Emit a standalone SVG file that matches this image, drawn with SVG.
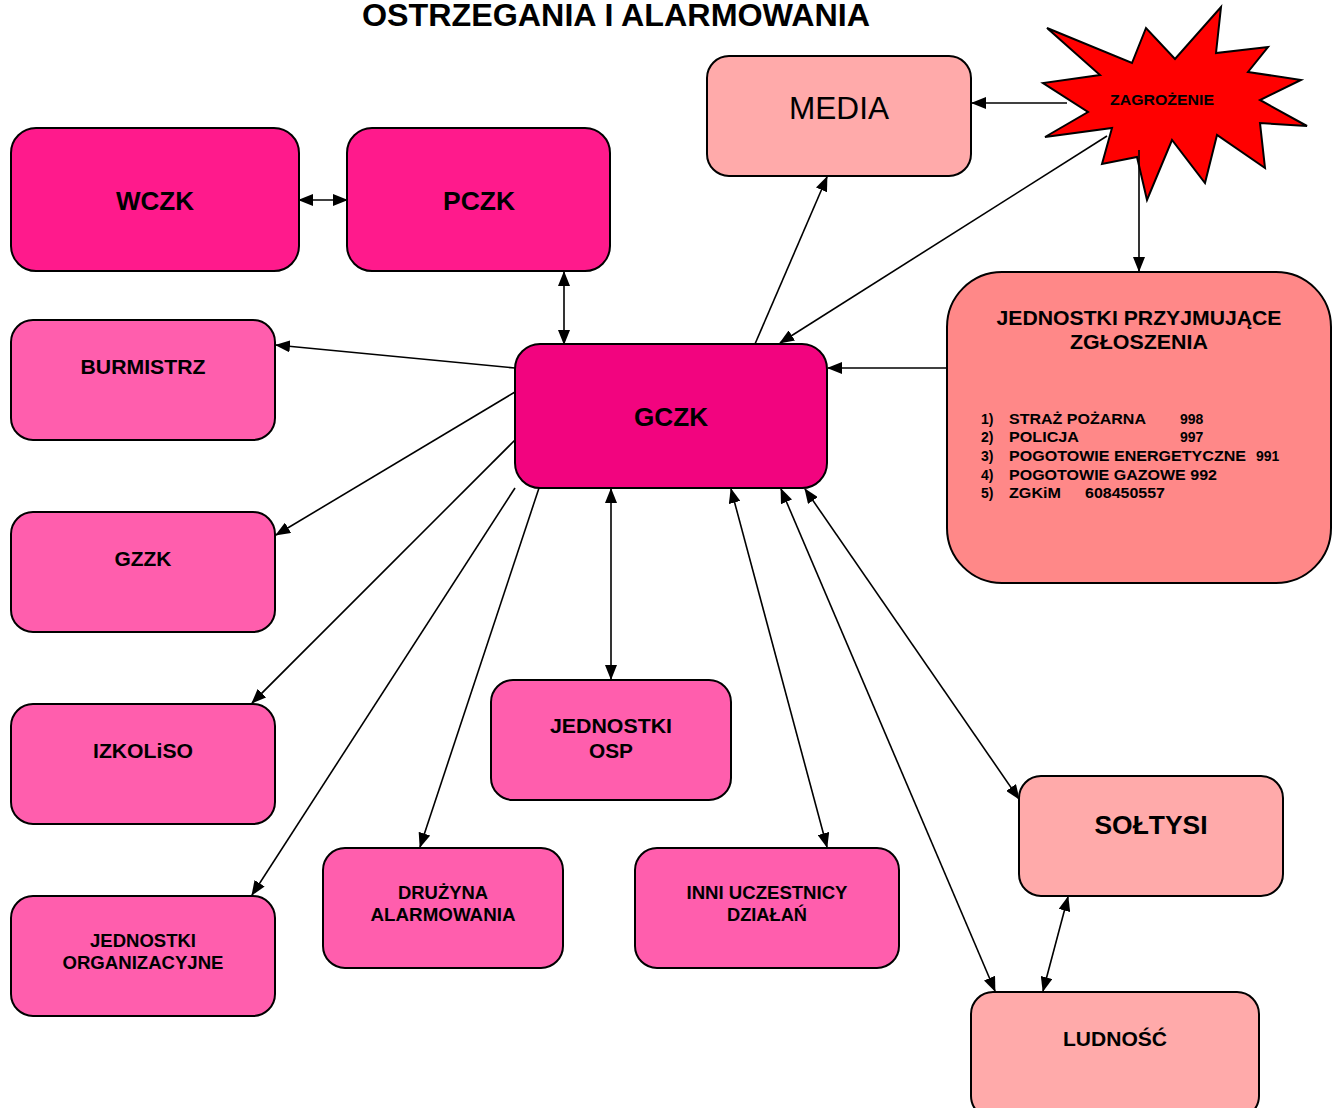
<svg xmlns="http://www.w3.org/2000/svg" width="1341" height="1108" viewBox="0 0 1341 1108">
<defs>
<marker id="ah" markerUnits="userSpaceOnUse" markerWidth="15" markerHeight="12" refX="14" refY="6" orient="auto-start-reverse">
<path d="M0,0 L15,6 L0,12 z" fill="#000"/>
</marker>
<style>
text{font-family:"Liberation Sans",Arial,sans-serif;font-weight:bold;fill:#000;text-anchor:middle}
.box{stroke:#000;stroke-width:2}
.dark{fill:#FF1A8C}
.gc{fill:#F2047F}
.mid{fill:#FF5EAD}
.light{fill:#FFAAAA}
.conn line{stroke:#000;stroke-width:1.6}
.t24{font-size:25px}
.t19{font-size:20px}
.t17{font-size:18px}
.list{font-size:14px;text-anchor:start}
</style>
</defs>
<rect width="1341" height="1108" fill="#fff"/>
<text x="616" y="26" style="font-size:32px" textLength="508" lengthAdjust="spacingAndGlyphs">OSTRZEGANIA I ALARMOWANIA</text>

<g id="zagrozenie">
<polygon points="1047,28 1132,63 1146,28 1175,59 1221,7 1216,53 1268,47 1248,72 1301,80 1260,100 1307,126 1260,123 1265,168 1217,135 1205,183 1172,140 1147,200 1137,157 1102,164 1112,128 1045,137 1088,112 1043,83 1100,75" fill="#FF0000" stroke="#000" stroke-width="2"/>
<text x="1162" y="105" style="font-size:15px" textLength="104" lengthAdjust="spacingAndGlyphs">ZAGROŻENIE</text>
</g>

<g class="conn">
<line x1="299" y1="200" x2="347" y2="200" marker-start="url(#ah)" marker-end="url(#ah)"/>
<line x1="564" y1="272" x2="564" y2="344" marker-start="url(#ah)" marker-end="url(#ah)"/>
<line x1="515" y1="368" x2="276" y2="345" marker-end="url(#ah)"/>
<line x1="515" y1="392" x2="276" y2="535" marker-end="url(#ah)"/>
<line x1="515" y1="440" x2="252" y2="703" marker-end="url(#ah)"/>
<line x1="515" y1="488" x2="252" y2="895" marker-end="url(#ah)"/>
<line x1="539" y1="488" x2="420" y2="847" marker-end="url(#ah)"/>
<line x1="611" y1="489" x2="611" y2="679" marker-start="url(#ah)" marker-end="url(#ah)"/>
<line x1="731" y1="489" x2="827" y2="847" marker-start="url(#ah)" marker-end="url(#ah)"/>
<line x1="781" y1="489" x2="995" y2="991" marker-start="url(#ah)" marker-end="url(#ah)"/>
<line x1="805" y1="489" x2="1019" y2="799" marker-start="url(#ah)" marker-end="url(#ah)"/>
<line x1="1068" y1="897" x2="1043" y2="991" marker-start="url(#ah)" marker-end="url(#ah)"/>
<line x1="755" y1="344" x2="827" y2="177" marker-end="url(#ah)"/>
<line x1="1067" y1="103" x2="972" y2="103" marker-end="url(#ah)"/>
<line x1="1107" y1="136" x2="780" y2="343" marker-end="url(#ah)"/>
<line x1="1139" y1="150" x2="1139" y2="271" marker-end="url(#ah)"/>
<line x1="947" y1="368" x2="828" y2="368" marker-end="url(#ah)"/>
</g>

<g id="wczk"><rect class="box dark" x="11" y="128" width="288" height="143" rx="25"/><text class="t24" x="155" y="210" textLength="78" lengthAdjust="spacingAndGlyphs">WCZK</text></g>
<g id="pczk"><rect class="box dark" x="347" y="128" width="263" height="143" rx="25"/><text class="t24" x="479" y="210" textLength="72" lengthAdjust="spacingAndGlyphs">PCZK</text></g>
<g id="media"><rect class="box light" x="707" y="56" width="264" height="120" rx="22"/><text x="839" y="119" style="font-size:31px;font-weight:normal" textLength="100" lengthAdjust="spacingAndGlyphs">MEDIA</text></g>
<g id="gczk"><rect class="box gc" x="515" y="344" width="312" height="144" rx="25"/><text class="t24" x="671" y="426" textLength="74" lengthAdjust="spacingAndGlyphs">GCZK</text></g>
<g id="jednostki-przyjmujace">
<rect class="box" x="947" y="272" width="384" height="311" rx="55" fill="#FF8888"/>
<text class="t19" x="1139" y="325" textLength="285" lengthAdjust="spacingAndGlyphs">JEDNOSTKI PRZYJMUJĄCE</text>
<text class="t19" x="1139" y="349" textLength="138" lengthAdjust="spacingAndGlyphs">ZGŁOSZENIA</text>
<text class="list" x="981" y="424">1)</text><text class="list" x="1009" y="424" textLength="137" lengthAdjust="spacingAndGlyphs">STRAŻ POŻARNA</text><text class="list" x="1180" y="424">998</text>
<text class="list" x="981" y="442">2)</text><text class="list" x="1009" y="442" textLength="70" lengthAdjust="spacingAndGlyphs">POLICJA</text><text class="list" x="1180" y="442">997</text>
<text class="list" x="981" y="461">3)</text><text class="list" x="1009" y="461" textLength="237" lengthAdjust="spacingAndGlyphs">POGOTOWIE ENERGETYCZNE</text><text class="list" x="1256" y="461">991</text>
<text class="list" x="981" y="480">4)</text><text class="list" x="1009" y="480" textLength="208" lengthAdjust="spacingAndGlyphs">POGOTOWIE GAZOWE 992</text>
<text class="list" x="981" y="498">5)</text><text class="list" x="1009" y="498" textLength="52" lengthAdjust="spacingAndGlyphs">ZGKiM</text><text class="list" x="1085" y="498" textLength="80" lengthAdjust="spacingAndGlyphs">608450557</text>
</g>
<g id="burmistrz"><rect class="box mid" x="11" y="320" width="264" height="120" rx="22"/><text class="t19" x="143" y="374" textLength="125" lengthAdjust="spacingAndGlyphs">BURMISTRZ</text></g>
<g id="gzzk"><rect class="box mid" x="11" y="512" width="264" height="120" rx="22"/><text class="t19" x="143" y="566" textLength="57" lengthAdjust="spacingAndGlyphs">GZZK</text></g>
<g id="izkoliso"><rect class="box mid" x="11" y="704" width="264" height="120" rx="22"/><text class="t19" x="143" y="758" textLength="100" lengthAdjust="spacingAndGlyphs">IZKOLiSO</text></g>
<g id="jednostki-organizacyjne"><rect class="box mid" x="11" y="896" width="264" height="120" rx="22"/><text class="t17" x="143" y="947" textLength="106" lengthAdjust="spacingAndGlyphs">JEDNOSTKI</text><text class="t17" x="143" y="969" textLength="161" lengthAdjust="spacingAndGlyphs">ORGANIZACYJNE</text></g>
<g id="druzyna"><rect class="box mid" x="323" y="848" width="240" height="120" rx="22"/><text class="t17" x="443" y="899" textLength="90" lengthAdjust="spacingAndGlyphs">DRUŻYNA</text><text class="t17" x="443" y="921" textLength="145" lengthAdjust="spacingAndGlyphs">ALARMOWANIA</text></g>
<g id="osp"><rect class="box mid" x="491" y="680" width="240" height="120" rx="22"/><text class="t19" x="611" y="733" textLength="122" lengthAdjust="spacingAndGlyphs">JEDNOSTKI</text><text class="t19" x="611" y="758" textLength="44" lengthAdjust="spacingAndGlyphs">OSP</text></g>
<g id="inni"><rect class="box mid" x="635" y="848" width="264" height="120" rx="22"/><text class="t17" x="767" y="899" textLength="161" lengthAdjust="spacingAndGlyphs">INNI UCZESTNICY</text><text class="t17" x="767" y="921" textLength="80" lengthAdjust="spacingAndGlyphs">DZIAŁAŃ</text></g>
<g id="soltysi"><rect class="box light" x="1019" y="776" width="264" height="120" rx="22"/><text class="t24" x="1151" y="834" textLength="113" lengthAdjust="spacingAndGlyphs">SOŁTYSI</text></g>
<g id="ludnosc"><rect class="box light" x="971" y="992" width="288" height="126" rx="22"/><text class="t19" x="1115" y="1046" textLength="104" lengthAdjust="spacingAndGlyphs">LUDNOŚĆ</text></g>
</svg>
